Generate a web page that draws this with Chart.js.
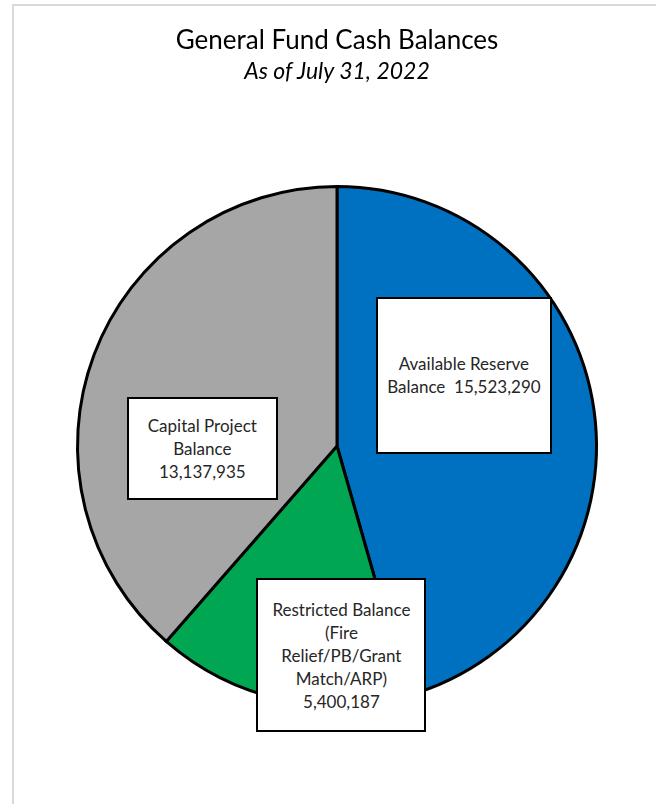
<!DOCTYPE html>
<html>
<head>
<meta charset="utf-8">
<script src="https://cdn.jsdelivr.net/npm/chart.js@4.4.0/dist/chart.umd.min.js"></script>
<style>
  html, body { margin: 0; padding: 0; background: #fff; }
  #wrap { position: relative; width: 656px; height: 804px; overflow: hidden; font-family: Lato, "Open Sans", sans-serif; }
  #topline { position: absolute; left: 12px; top: 4px; width: 644px; height: 2px; background: #d9d9d9; }
  #leftline { position: absolute; left: 12px; top: 4px; width: 2px; height: 800px; background: #d9d9d9; }
  #title { position: absolute; left: 0; width: 674px; top: 23px; line-height: 32px; text-align: center; font-size: 26px; color: #000; }
  #subtitle { position: absolute; left: 0; width: 674px; top: 56px; line-height: 28px; text-align: center; font-size: 23px; font-style: italic; color: #000; }
  canvas { position: absolute; left: 0; top: 0; }
  .lbl { position: absolute; box-sizing: border-box; background: #fff; border: 2px solid #000;
         display: flex; align-items: center; justify-content: center; text-align: center;
         font-size: 17px; line-height: 23px; color: #262626; }
</style>
</head>
<body>
<div id="wrap">
  <div id="topline"></div>
  <div id="leftline"></div>
  <canvas id="c" width="656" height="804"></canvas>
  <div id="title">General Fund Cash Balances</div>
  <div id="subtitle">As of July 31, 2022</div>
</div>
<script>
const categories = ["Available Reserve Balance", "Restricted Balance (Fire Relief/PB/Grant Match/ARP)", "Capital Project Balance"];
const values = [15523290, 5400187, 13137935];
const labelLines = [
  ["Available Reserve", "Balance\u00a0\u00a015,523,290"],
  ["Restricted Balance", "(Fire", "Relief/PB/Grant", "Match/ARP)", "5,400,187"],
  ["Capital Project", "Balance", "13,137,935"]
];
const colors = ["#0070C0", "#00A651", "#A6A6A6"];

// label box layout: centre offsets as fractions of the pie radius, and box size in px
const boxLayout = [
  { fx: 0.489, fy: -0.272, w: 176, h: 157 },
  { fx: 0.017, fy: 0.806, w: 170, h: 154 },
  { fx: -0.519, fy: 0.011, w: 151, h: 103 }
];

const chart = new Chart(document.getElementById('c'), {
  type: 'pie',
  data: {
    labels: categories,
    datasets: [{
      data: values,
      backgroundColor: colors,
      borderColor: '#000',
      borderWidth: 3,
      borderJoinStyle: 'miter'
    }]
  },
  options: {
    responsive: false,
    animation: false,
    layout: { padding: { left: 76, right: 58, top: 185, bottom: 97 } },
    plugins: { legend: { display: false }, tooltip: { enabled: false }, title: { display: false } }
  }
});

const meta = chart.getDatasetMeta(0);
const arc0 = meta.data[0];
const cx = arc0.x, cy = arc0.y, r = arc0.outerRadius;
const wrap = document.getElementById('wrap');
labelLines.forEach((lines, i) => {
  const L = boxLayout[i];
  const d = document.createElement('div');
  d.className = 'lbl';
  d.style.width = L.w + 'px';
  d.style.height = L.h + 'px';
  d.style.left = (cx + L.fx * r - L.w / 2) + 'px';
  d.style.top = (cy + L.fy * r - L.h / 2) + 'px';
  d.innerHTML = '<div>' + lines.join('<br>') + '</div>';
  wrap.appendChild(d);
});
</script>
</body>
</html>
